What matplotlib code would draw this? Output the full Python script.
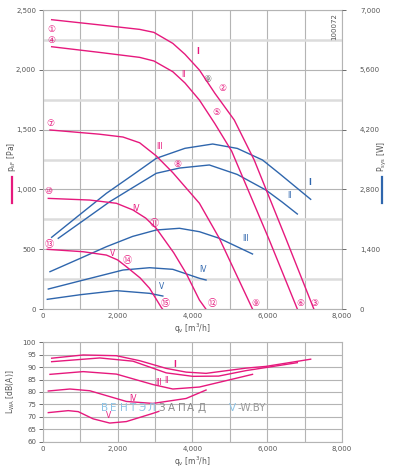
import numpy as np
import matplotlib.pyplot as plt
from matplotlib.ticker import FixedLocator

plt.rcParams['font.family'] = ['DejaVu Sans', 'Noto Sans CJK JP']

PINK = '#e6197d'
BLUE = '#2f66ad'
GRID = '#b4b4b4'
GRID2 = '#dcdcdc'
TXT = '#555555'

# pressure curves p_sF [Pa] vs q_v [m3/h]
pI_q = [232, 1500, 2587, 2968, 3475, 3800, 4187, 4600, 5120, 5520, 5653, 6500, 7250]
pI_p = [2419, 2376, 2338, 2313, 2221, 2130, 1998, 1804, 1580, 1329, 1246, 590, 0]
pII_q = [232, 1500, 2587, 2968, 3475, 3800, 4187, 4600, 5050, 6053, 6808]
pII_p = [2193, 2146, 2104, 2074, 1984, 1890, 1747, 1550, 1320, 580, 0]
pIII_q = [187, 1500, 2141, 2587, 3032, 3475, 4187, 4720, 5608]
pIII_p = [1497, 1462, 1438, 1390, 1280, 1140, 884, 591, 0]
pIV_q = [142, 1253, 1965, 2408, 2750, 3032, 3500, 3832, 4187, 4360]
pIV_p = [925, 911, 884, 828, 760, 675, 470, 298, 75, 0]
pV_q = [115, 1075, 1698, 2000, 2231, 2600, 2853, 3165, 3200]
pV_p = [499, 479, 451, 410, 354, 260, 173, 14, 0]

# power curves P_sys [W]
wI_q = [232, 1000, 1698, 2400, 3032, 3800, 4542, 5200, 5875, 6320, 7165]
wI_w = [1679, 2220, 2709, 3137, 3528, 3762, 3863, 3760, 3489, 3177, 2568]
wII_q = [409, 1100, 1787, 2400, 3032, 3653, 4453, 5200, 5965, 6400, 6808]
wII_w = [1655, 2084, 2512, 2841, 3177, 3300, 3372, 3150, 2786, 2505, 2224]
wIII_q = [187, 1000, 1698, 2400, 3032, 3653, 4187, 4720, 5608]
wIII_w = [874, 1187, 1459, 1700, 1850, 1890, 1810, 1655, 1288]
wIV_q = [142, 1000, 2141, 2853, 3475, 4187, 4365]
wIV_w = [468, 660, 913, 967, 929, 719, 679]
wV_q = [115, 1000, 1965, 2853, 3208]
wV_w = [227, 335, 430, 367, 304]

# sound power L_WA [dB(A)]
lI_q = [232, 1075, 1965, 2587, 3298, 3832, 4365, 5432, 5965, 7165]
lI_l = [93.6, 94.9, 94.6, 92.6, 89.5, 88.0, 87.5, 89.6, 90.3, 93.2]
lII_q = [232, 1520, 2408, 3298, 4009, 4700, 5432, 6808]
lII_l = [92.2, 93.7, 92.4, 87.7, 86.3, 86.4, 88.6, 91.8]
lIII_q = [187, 1075, 1965, 2942, 3475, 4187, 5608]
lIII_l = [87.1, 88.2, 87.2, 83.0, 81.2, 82.0, 87.1]
lIV_q = [142, 720, 1253, 2231, 2942, 3832, 4365]
lIV_l = [80.4, 81.2, 80.5, 76.2, 75.4, 77.4, 80.8]
lV_q = [142, 676, 942, 1342, 1787, 2231, 2942, 3100]
lV_l = [71.7, 72.5, 72.1, 69.2, 67.5, 68.1, 71.4, 72.2]

roman = ['I', 'II', 'III', 'IV', 'V']
p_label_pos = [(4133, 2149), (3760, 1957), (3120, 1355), (2498, 842), (1858, 466)]
w_label_pos = [(7138, 1056), (6587, 945), (5432, 591), (4275, 332), (3165, 192)]
l_label_pos = [(3520, 91.1), (3298, 84.8), (3101, 83.7), (2408, 77.5), (1768, 70.5)]
circle_marks = [('①', 232, 2341), ('②', 4792, 1845), ('③', 7253, 48),
                ('④', 232, 2243), ('⑤', 4648, 1641), ('⑥', 6898, 48),
                ('⑦', 187, 1547), ('⑧', 3592, 1210), ('⑨', 5698, 48),
                ('⑩', 142, 981), ('⑪', 2987, 711), ('⑫', 4525, 48),
                ('⑬', 160, 541), ('⑭', 2248, 404), ('⑮', 3280, 42)]

fig = plt.figure(figsize=(3.98, 4.72), dpi=100)

def style(ax, yticks, ylabels, ymin, ymax, minor_y):
    ax.set_xlim(0, 8000)
    ax.set_ylim(ymin, ymax)
    ax.set_xticks([0, 2000, 4000, 6000, 8000])
    ax.set_xticklabels(['0', '2,000', '4,000', '6,000', '8,000'])
    ax.set_yticks(yticks)
    ax.set_yticklabels(ylabels)
    ax.xaxis.set_minor_locator(FixedLocator([1000, 3000, 5000, 7000]))
    ax.yaxis.set_minor_locator(FixedLocator(minor_y))
    ax.grid(True, which='major', color=GRID, lw=0.8)
    ax.grid(True, which='minor', axis='x', color=GRID, lw=0.8)
    ax.grid(True, which='minor', axis='y', color=GRID2, lw=1.8)
    ax.tick_params(which='both', labelsize=5, colors=TXT, length=3, width=0.6, pad=2)
    ax.tick_params(which='minor', length=0)
    ax.tick_params(axis='x', colors=TXT, length=0, pad=3)
    for s in ax.spines.values():
        s.set_color(GRID)
        s.set_linewidth(0.8)
    ax.set_axisbelow(True)

# top chart
ax = fig.add_axes([0.108, 0.3453, 0.751, 0.6335])
style(ax, [0, 500, 1000, 1500, 2000, 2500], ['0', '500', '1,000', '1,500', '2,000', '2,500'],
      0, 2500, [250, 750, 1250, 1750, 2250])
ax2 = ax.twinx()
ax2.set_ylim(0, 7000)
ax2.set_yticks([0, 1400, 2800, 4200, 5600, 7000])
ax2.set_yticklabels(['0', '1,400', '2,800', '4,200', '5,600', '7,000'])
ax2.tick_params(labelsize=5, colors=TXT, length=3, width=0.6, pad=10)
for s in ax2.spines.values():
    s.set_visible(False)

for q, w in [(wI_q, wI_w), (wII_q, wII_w), (wIII_q, wIII_w), (wIV_q, wIV_w), (wV_q, wV_w)]:
    ax2.plot(q, w, color=BLUE, lw=1.0)
for q, p in [(pI_q, pI_p), (pII_q, pII_p), (pIII_q, pIII_p), (pIV_q, pIV_p), (pV_q, pV_p)]:
    ax2.plot(np.array(q), np.array(p) * 7000 / 2500, color=PINK, lw=1.0)

for r, (x, y) in zip(roman, p_label_pos):
    ax.text(x, y, r, color=PINK, fontsize=5.5, ha='center', va='center',
            fontweight='bold' if r == 'I' else 'normal')
for r, (x, y) in zip(roman, w_label_pos):
    ax.text(x, y, r, color=BLUE, fontsize=5.5, ha='center', va='center',
            fontweight='bold' if r == 'I' else 'normal')
for s, x, y in circle_marks:
    ax.text(x, y, s, color=PINK, fontsize=6.5, ha='center', va='center')
ax.text(4408, 1915, '⑨', color='#666666', fontsize=6.5, ha='center', va='center')
ax.text(7800, 2470, '100072', rotation=90, fontsize=5, color=TXT, ha='center', va='top')

ax.set_xlabel(r'q$_\mathrm{v}$ [m$^3$/h]', fontsize=5.5, color=TXT, labelpad=2)

# left / right axis titles with colour bars
fig.text(0.028, 0.668, r'p$_\mathrm{sF}$ [Pa]', rotation=90, fontsize=5.5, color=TXT,
         ha='center', va='center')
fig.add_artist(plt.Line2D([0.03, 0.03], [1 - 177 / 472, 1 - 203 / 472], color=PINK, lw=1.6))
fig.text(0.96, 0.668, r'P$_\mathrm{sys}$ [W]', rotation=90, fontsize=5.5, color=TXT,
         ha='center', va='center')
fig.add_artist(plt.Line2D([0.96, 0.96], [1 - 177 / 472, 1 - 203 / 472], color=BLUE, lw=1.6))

# bottom chart
bx = fig.add_axes([0.108, 0.0642, 0.751, 0.2106])
style(bx, [60, 65, 70, 75, 80, 85, 90, 95, 100],
      ['60', '65', '70', '75', '80', '85', '90', '95', '100'], 60, 100, [])
for q, l in [(lI_q, lI_l), (lII_q, lII_l), (lIII_q, lIII_l), (lIV_q, lIV_l), (lV_q, lV_l)]:
    bx.plot(q, l, color=PINK, lw=1.0)
for r, (x, y) in zip(roman, l_label_pos):
    bx.text(x, y, r, color=PINK, fontsize=5.5, ha='center', va='center',
            fontweight='bold' if r == 'I' else 'normal')
bx.set_xlabel(r'q$_\mathrm{v}$ [m$^3$/h]', fontsize=5.5, color=TXT, labelpad=2)
bx.set_ylabel(r'L$_\mathrm{WA}$ [dB(A)]', fontsize=5.5, color=TXT, labelpad=4)

# watermark, letter by letter to get the wide spacing
wy = 1 - 408 / 472
for i, ch in enumerate('ВЕНТЭЛ'):
    fig.text((101 + i * 9.4) / 398, wy, ch, fontsize=7.5, color='#8cc3e6', va='center')
for i, ch in enumerate('ЗАПАД'):
    fig.text((158 + i * 9.8) / 398, wy, ch, fontsize=7.5, color='#8a8a8a', va='center')
fig.text(229 / 398, wy, 'V', fontsize=7.5, color='#8cc3e6', va='center')
fig.text(237 / 398, wy, '-W.BY', fontsize=7.5, color='#9a9a9a', va='center')

fig.savefig('out.png', dpi=100)
